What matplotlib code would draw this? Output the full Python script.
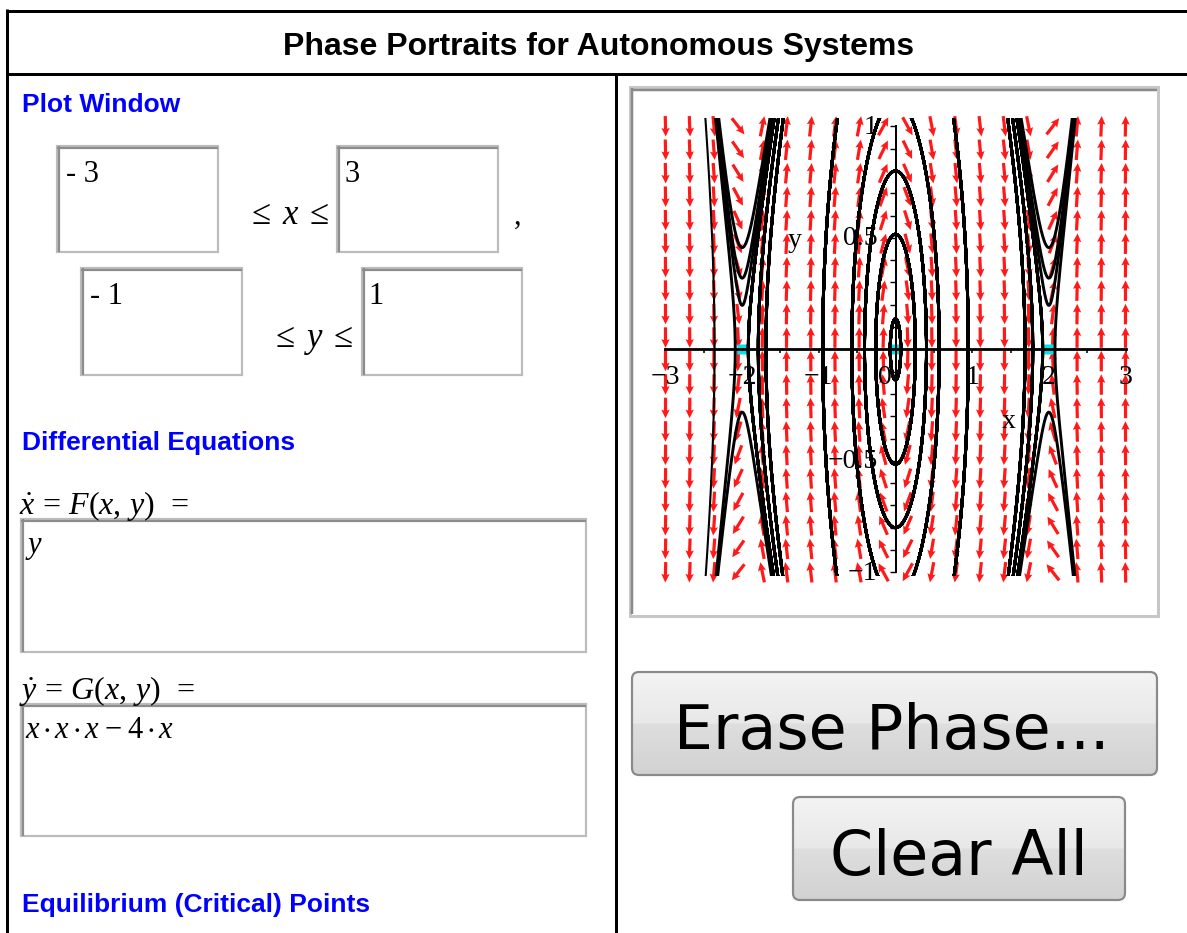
import numpy as np
import matplotlib
matplotlib.use("Agg")
import matplotlib.pyplot as plt
from matplotlib.patches import Rectangle, FancyBboxPatch

plt.rcParams['mathtext.fontset'] = 'custom'
plt.rcParams['mathtext.rm'] = 'Liberation Serif'
plt.rcParams['mathtext.it'] = 'Liberation Serif:italic'
plt.rcParams['mathtext.bf'] = 'Liberation Serif:bold'
plt.rcParams['mathtext.fallback'] = 'stix'

# ---------------- data ----------------
TITLE = "Phase Portraits for Autonomous Systems"
HEAD_WINDOW = "Plot Window"
HEAD_EQS = "Differential Equations"
HEAD_EQUIL = "Equilibrium (Critical) Points"
X_LOW, X_HIGH = "- 3", "3"
Y_LOW, Y_HIGH = "- 1", "1"
F_TEXT = r"$y$"
G_TEXT = r"$x\,{\cdot}\,x\,{\cdot}\,x\;{-}\;4\,{\cdot}\,x$"
BTN_ERASE = "Erase Phase..."
BTN_CLEAR = "Clear All"

X_TICKS = [-3, -2, -1, 0, 1, 2, 3]
X_TICK_LABELS = ["\u22123", "\u22122", "\u22121", "0", "1", "2", "3"]
X_MINOR = [-2.5, -1.5, -0.5, 0.5, 1.5, 2.5]
Y_TICKS = [-1, -0.5, 0.5, 1]
Y_TICK_LABELS = ["\u22121", "\u22120.5", "0.5", "1"]
Y_MINOR = [-0.9, -0.8, -0.7, -0.6, -0.4, -0.3, -0.2, -0.1, 0.0,
           0.1, 0.2, 0.3, 0.4, 0.6, 0.7, 0.8, 0.9]

EQ_X = [-2, 0, 2]
EQ_Y = [0, 0, 0]

# initial points of the drawn trajectories
TRAJ_X0 = [0.0, 0.0, 0.0, -0.57, -0.95, -1.69, -1.79, -1.92,
           -2.36, -2.09, 2.08, -2.0, -2.0, -2.0, -2.0]
TRAJ_Y0 = [0.137, 0.516, 0.80, 0.0, 0.0, 0.0, 0.0, 0.0,
           0.0, 0.0, 0.0, 0.456, 0.319, 0.197, -0.282]
TRAJ_LW = [2.1, 2.1, 2.1, 2.1, 2.1, 2.1, 2.1, 2.1,
           1.5, 2.1, 2.1, 2.1, 2.1, 2.1, 2.1]

FIELD_NX, FIELD_NY = 20, 20


def F(x, y):
    return y


def G(x, y):
    return x * x * x - 4 * x


# ---------------- figure ----------------
W, H = 1187, 933
fig = plt.figure(figsize=(W / 100, H / 100), dpi=100)
fig.patch.set_facecolor('white')
ui = fig.add_axes([0, 0, 1, 1])
ui.set_xlim(0, W)
ui.set_ylim(H, 0)
ui.set_autoscale_on(False)
ui.axis('off')
ui.set_zorder(0)


def pt(p):
    return p * 0.72


def hline(x0, x1, y, w, c, z=3):
    ui.plot([x0, x1], [y, y], color=c, lw=pt(w), solid_capstyle='butt', zorder=z)


def vline(x, y0, y1, w, c, z=3):
    ui.plot([x, x], [y0, y1], color=c, lw=pt(w), solid_capstyle='butt', zorder=z)


# outer black frame
hline(5.5, W, 10.5, 3, 'black')
vline(7, 9, H, 3, 'black')
hline(5.5, W, 74, 3, 'black')
vline(615.5, 74, H, 3, 'black')

SANS = 'Liberation Sans'
SERIF = 'Liberation Serif'
ui.text(598.5, 55, TITLE, ha='center', va='baseline', fontsize=23,
        fontweight='bold', family=SANS, color='black')

BLUE = '#0000ff'
ui.text(22, 112, HEAD_WINDOW, ha='left', va='baseline', fontsize=19,
        fontweight='bold', family=SANS, color=BLUE)
ui.text(22, 450, HEAD_EQS, ha='left', va='baseline', fontsize=19,
        fontweight='bold', family=SANS, color=BLUE)
ui.text(22, 912, HEAD_EQUIL, ha='left', va='baseline', fontsize=19,
        fontweight='bold', family=SANS, color=BLUE)


def input_box(x0, y0, x1, y1):
    ui.add_patch(Rectangle((x0, y0), x1 - x0, y1 - y0, facecolor='white',
                           edgecolor='#bcbcbc', lw=pt(2.2), zorder=2))
    hline(x0, x1, y0 + 1.8, 2.2, '#8c8c8c')
    vline(x0 + 1.8, y0, y1, 2.2, '#8c8c8c')


input_box(57, 146, 218, 252)
input_box(337, 146, 498, 252)
input_box(81, 268, 242, 375)
input_box(362, 268, 522, 375)
input_box(21, 519, 586, 652)
input_box(21, 704, 586, 836)

ui.text(66, 182, X_LOW, ha='left', va='baseline', fontsize=22, family=SERIF)
ui.text(344, 182, X_HIGH, ha='left', va='baseline', fontsize=22, family=SERIF)
ui.text(90, 304, Y_LOW, ha='left', va='baseline', fontsize=22, family=SERIF)
ui.text(368, 304, Y_HIGH, ha='left', va='baseline', fontsize=22, family=SERIF)
ui.text(246, 224, r"$\leq\;x\;\leq$", ha='left', va='baseline', fontsize=25)
ui.text(270, 347, r"$\leq\;y\;\leq$", ha='left', va='baseline', fontsize=25)
ui.text(514, 224, ",", ha='left', va='baseline', fontsize=22, family=SERIF)

ui.text(19, 514, r"$\dot{x}\,{=}\,F(x,\,y)\ \,{=}$", ha='left', va='baseline', fontsize=23)
ui.text(19, 699, r"$\dot{y}\,{=}\,G(x,\,y)\ \,{=}$", ha='left', va='baseline', fontsize=23)
ui.text(25, 553, F_TEXT, ha='left', va='baseline', fontsize=22)
ui.text(25, 738, G_TEXT, ha='left', va='baseline', fontsize=22)


def button(x0, y0, x1, y1, label, cx, base, size):
    patch = FancyBboxPatch((x0, y0), x1 - x0, y1 - y0,
                           boxstyle='round,pad=0,rounding_size=7',
                           facecolor='none', edgecolor='#8a8a8a',
                           lw=pt(2.2), zorder=5)
    ui.add_patch(patch)
    t = np.linspace(0, 1, 200)
    col = np.where(t < 0.5, 0.955 - 0.045 * t / 0.5,
                   0.872 - 0.05 * (t - 0.5) / 0.5)
    img = np.repeat(col[:, None], 2, axis=1)
    im = ui.imshow(np.dstack([img, img, img]), extent=[x0, x1, y1, y0],
                   aspect='auto', zorder=4, interpolation='bilinear')
    im.set_clip_path(patch)
    ui.text(cx, base, label, ha='center', va='baseline', fontsize=size,
            family='DejaVu Sans', color='black', zorder=6)


button(632, 672, 1157, 775, BTN_ERASE, 891.5, 749, 44.5)
button(793, 797, 1125, 900, BTN_CLEAR, 958.5, 875, 44.5)

# plot frame
ui.add_patch(Rectangle((629.5, 86.5), 528, 529, facecolor='white',
                       edgecolor='#c6c6c6', lw=pt(3), zorder=2))
hline(631, 1156.5, 89.8, 2.5, '#8a8a8a')
vline(632.3, 88, 614, 2.5, '#8a8a8a')

# ---------------- phase plot ----------------
X0PX, SX = 895.5, 76.667   # pixel of x=0, pixels per x unit
Y0PX, SY = 349.3, 223.0    # pixel of y=0, pixels per y unit
L, R, T, B = 660, 1131, 118, 576
ax = fig.add_axes([L / W, 1 - B / H, (R - L) / W, (B - T) / H])
ax.set_zorder(1)
ax.patch.set_alpha(0)
ax.set_xlim((L - X0PX) / SX, (R - X0PX) / SX)
ax.set_ylim((Y0PX - B) / SY, (Y0PX - T) / SY)

# direction field
gx = np.linspace(X_TICKS[0], X_TICKS[-1], FIELD_NX)
gy = np.linspace(Y_TICKS[0], Y_TICKS[-1], FIELD_NY)
GX, GY = np.meshgrid(gx, gy)
u = F(GX, GY) * SX
v = G(GX, GY) * SY
nrm = np.hypot(u, v)
ALEN = 20.5
ax.quiver(GX, GY, u / nrm * ALEN, v / nrm * ALEN, angles='uv',
          scale_units='dots', scale=1, units='dots', width=3.2,
          headwidth=2.6, headlength=2.7, headaxislength=2.4, pivot='mid',
          color='#ff1a1a', clip_on=False, zorder=2)


# trajectories (RK4 integration of the system from each initial point)
def integrate(x0, y0, dt, n):
    x = np.array(x0, float)
    y = np.array(y0, float)
    XS = np.full((n + 1, x.size), np.nan)
    YS = np.full((n + 1, x.size), np.nan)
    XS[0], YS[0] = x, y
    with np.errstate(invalid='ignore', over='ignore'):
        for i in range(n):
            k1x, k1y = F(x, y), G(x, y)
            k2x, k2y = F(x + dt / 2 * k1x, y + dt / 2 * k1y), G(x + dt / 2 * k1x, y + dt / 2 * k1y)
            k3x, k3y = F(x + dt / 2 * k2x, y + dt / 2 * k2y), G(x + dt / 2 * k2x, y + dt / 2 * k2y)
            k4x, k4y = F(x + dt * k3x, y + dt * k3y), G(x + dt * k3x, y + dt * k3y)
            x = x + dt / 6 * (k1x + 2 * k2x + 2 * k3x + k4x)
            y = y + dt / 6 * (k1y + 2 * k2y + 2 * k3y + k4y)
            bad = (np.abs(x) > 3.4) | (np.abs(y) > 4.5)
            x[bad] = np.nan
            y[bad] = np.nan
            XS[i + 1], YS[i + 1] = x, y
    return XS, YS


Xf, Yf = integrate(TRAJ_X0, TRAJ_Y0, 0.002, 7000)
Xb, Yb = integrate(TRAJ_X0, TRAJ_Y0, -0.002, 7000)
for j in range(len(TRAJ_X0)):
    xs = np.concatenate([Xb[::-1, j], Xf[1:, j]])
    ys = np.concatenate([Yb[::-1, j], Yf[1:, j]])
    ax.plot(xs, ys, color='black', lw=TRAJ_LW[j], zorder=3,
            solid_capstyle='round', solid_joinstyle='round')

# equilibrium points
ax.plot(EQ_X, EQ_Y, 's', ms=7.2, color='#00e6e6', mec='none', zorder=2.6,
        clip_on=False)

# axes through the origin
for s in ['top', 'right']:
    ax.spines[s].set_visible(False)
ax.spines['left'].set_position(('data', 0))
ax.spines['bottom'].set_position(('data', 0))
ax.spines['left'].set_bounds(Y_TICKS[0], Y_TICKS[-1])
ax.spines['bottom'].set_bounds(X_TICKS[0], X_TICKS[-1])
ax.spines['left'].set_linewidth(pt(2))
ax.spines['bottom'].set_linewidth(pt(2.8))
for s in ['left', 'bottom']:
    ax.spines[s].set_zorder(3.5)
ax.set_xticks(X_TICKS + X_MINOR)
ax.set_yticks(Y_TICKS + Y_MINOR)
ax.tick_params(axis='x', direction='out', length=pt(4), width=pt(1.6),
               labelbottom=False)
ax.tick_params(axis='y', direction='out', length=pt(6), width=pt(1.4),
               labelleft=False)

TICKFONT = dict(family=SERIF, fontsize=20, color='black')
for val, lab in zip(X_TICKS, X_TICK_LABELS):
    dx = -11 if val == 0 else 0
    ax.annotate(lab, (val, 0), xytext=(dx, -28), textcoords='offset pixels',
                ha='center', va='center', annotation_clip=False, zorder=4,
                **TICKFONT)
for val, lab in zip(Y_TICKS, Y_TICK_LABELS):
    ax.annotate(lab, (0, val), xytext=(-18, -1), textcoords='offset pixels',
                ha='right', va='center', annotation_clip=False, zorder=4,
                **TICKFONT)
ax.text(-1.32, 0.49, "y", ha='center', va='center', zorder=4, **TICKFONT)
ax.text(1.48, -0.325, "x", ha='center', va='center', zorder=4, **TICKFONT)

fig.savefig('out.png', dpi=100, facecolor='white')
